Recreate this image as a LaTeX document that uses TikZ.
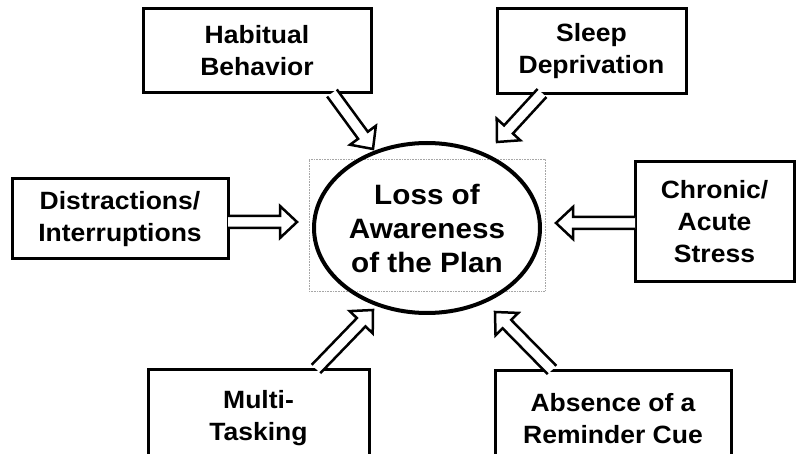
\documentclass[tikz,border=0pt]{standalone}
\usepackage{fontspec}
\setmainfont[FakeStretch=1.06]{Liberation Sans}
\usetikzlibrary{calc,shapes.geometric}
\tikzset{
  causebox/.style={draw, line width=3pt, rectangle, align=center, inner sep=0pt,
    font=\bfseries\fontsize{25}{32}\selectfont},
  centreoval/.style={draw, line width=4pt, ellipse, align=center, inner sep=0pt,
    minimum width=226pt, minimum height=170pt, font=\bfseries\fontsize{28}{34}\selectfont},
  blockarrow/.style={draw, line width=2.5pt, fill=white, line join=miter},
  guide/.style={draw=black!35, densely dotted, line width=0.6pt}
}
\newcommand\blockarr[2]{%
  \coordinate (h#1#2) at ($(#2)!17pt!(#1)$);
  \path[blockarrow] ($(#1)!6pt!90:(#2)$) -- ($(h#1#2)!6pt!90:(#2)$) -- ($(h#1#2)!16pt!90:(#2)$) -- (#2)
     -- ($(h#1#2)!16pt!-90:(#2)$) -- ($(h#1#2)!6pt!-90:(#2)$) -- ($(#1)!6pt!-90:(#2)$);
}
\begin{document}
\begin{tikzpicture}[x=1pt,y=-1pt]
\useasboundingbox[fill=white] (0,0) rectangle (798,454);
\node[guide, rectangle, minimum width=236pt, minimum height=132pt] (frame) at (427,225) {};
\node[centreoval] (loss) at (427,228) {Loss of\\Awareness\\of the Plan};
\node[causebox, minimum width=228pt, minimum height=84pt] (hab) at (257,51) {Habitual\\Behavior};
\node[causebox, minimum width=189pt, minimum height=85pt] (sleep) at (591.5,51.5) {Sleep\\Deprivation};
\node[causebox, minimum width=216pt, minimum height=80pt] (dist) at (120,219) {Distractions/\\Interruptions};
\node[causebox, minimum width=159pt, minimum height=120pt] (stress) at (714.5,222) {Chronic/\\Acute\\Stress};
\node[causebox, minimum width=221pt, minimum height=99pt] (multi) at (258.5,418.5) {Multi-\\Tasking};
\node[causebox, minimum width=236pt, minimum height=98pt] (cue) at (613,419) {Absence of a\\Reminder Cue};
\coordinate (hat) at (332,93);  \coordinate (hah) at (373,149);
\coordinate (sat) at (542,93);  \coordinate (sah) at (497,142);
\coordinate (dat) at (228,222); \coordinate (dah) at (297,222);
\coordinate (cat) at (635,223); \coordinate (cah) at (556,223);
\coordinate (mat) at (316,369); \coordinate (mah) at (373,310);
\coordinate (aat) at (552,370); \coordinate (aah) at (495,312);
\blockarr{hat}{hah}
\blockarr{sat}{sah}
\blockarr{dat}{dah}
\blockarr{cat}{cah}
\blockarr{mat}{mah}
\blockarr{aat}{aah}
\end{tikzpicture}
\end{document}
